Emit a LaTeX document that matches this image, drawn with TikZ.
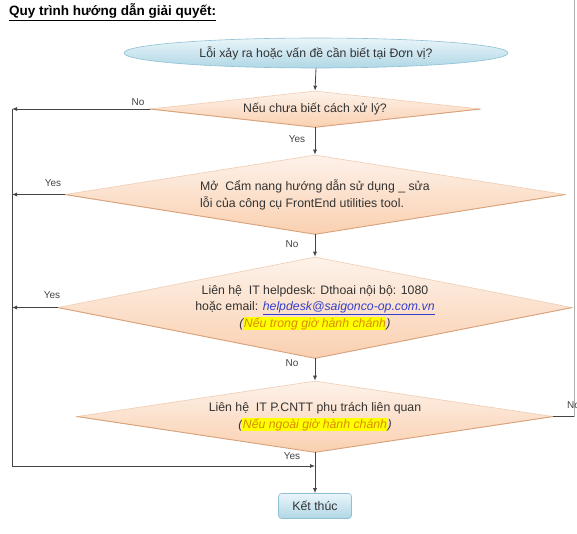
\documentclass[tikz,border=0pt]{standalone}
\usepackage{fontspec}
\setmainfont{Liberation Sans}
\usetikzlibrary{shapes.geometric,arrows.meta}
\definecolor{txt}{HTML}{333333}
\definecolor{lnc}{HTML}{444444}
\definecolor{dtop}{HTML}{FDF2EA}
\definecolor{dbot}{HTML}{FAD0B0}
\definecolor{dedge}{HTML}{F0CDB2}
\definecolor{dshade}{HTML}{D9A27A}
\definecolor{etop}{HTML}{EAF5FA}
\definecolor{ebot}{HTML}{AFD7E6}
\definecolor{eedge}{HTML}{8FC0D4}
\definecolor{hlyellow}{HTML}{FFFF00}
\definecolor{hlorange}{HTML}{D98C00}
\definecolor{linkblue}{HTML}{3340CC}
\definecolor{edgegray}{HTML}{B0B0B0}
\newcommand\hlt[1]{{\setlength{\fboxsep}{0.4pt}\colorbox{hlyellow}{\textcolor{hlorange}{#1}}}}
\begin{document}
\begin{tikzpicture}[x=1pt,y=-1pt,
  base/.style={text=txt, font=\fontsize{12.3}{17}\selectfont},
  dia/.style={base, diamond, inner sep=0pt, top color=dtop, bottom color=dbot, draw=dedge, line width=0.6pt},
  startell/.style={base, ellipse, inner sep=0pt, top color=etop, bottom color=ebot, draw=eedge, line width=0.6pt, minimum width=384, minimum height=30},
  endbox/.style={base, rectangle, rounded corners=3pt, inner sep=0pt, top color=etop, bottom color=ebot, draw=eedge, line width=0.6pt, minimum width=73, minimum height=25},
  lab/.style={text=lnc, font=\fontsize{10}{12}\selectfont, inner sep=0pt},
  line/.style={draw=lnc, line width=0.8pt},
  conn/.style={line, -{Latex[length=5pt,width=4pt]}},
  shadeedge/.style={draw=dshade, line width=0.9pt}
]
\clip (0,0) rectangle (577,533);
\fill[white] (0,0) rectangle (577,533);

\node[anchor=west, text=black, font=\bfseries\fontsize{13.5}{16}\selectfont, inner sep=0pt] (title) at (9,12) {\underline{Quy trình hướng dẫn giải quyết:}};

\node[startell] (start) at (316,53) {Lỗi xảy ra hoặc vấn đề cần biết tại Đơn vị?};

\node[dia, aspect=9.2, minimum width=330, minimum height=36] (d1) at (315,109) {Nếu chưa biết cách xử lý?};
\draw[shadeedge] (d1.west) -- (d1.south) -- (d1.east);

\node[dia, aspect=6.25, minimum width=500, minimum height=79, align=left] (d2) at (315,194.5) {Mở\ \ Cẩm nang hướng dẫn sử dụng \_ sửa\\lỗi của công cụ FrontEnd utilities tool.};
\draw[shadeedge] (d2.west) -- (d2.south) -- (d2.east);

\node[dia, aspect=5.14, minimum width=514, minimum height=101, align=center, font=\fontsize{12.3}{16.5}\selectfont] (d3) at (315,307.5) {Liên hệ\ \ IT helpdesk: Dthoai nội bộ: 1080\\hoặc email: \textcolor{linkblue}{\itshape\underline{helpdesk@saigonco-op.com.vn}}\\{\itshape(\hlt{Nếu trong giờ hành chánh})}};
\draw[shadeedge] (d3.west) -- (d3.south) -- (d3.east);

\node[dia, aspect=6.8, minimum width=476, minimum height=71, align=center] (d4) at (315,416.5) {Liên hệ\ \ IT P.CNTT phụ trách liên quan\\{\itshape(\hlt{Nếu ngoài giờ hành chánh})}};
\draw[shadeedge] (d4.west) -- (d4.south) -- (d4.east);

\node[endbox] (end) at (315,506) {Kết thúc};

\coordinate (lx) at (12,0);
\coordinate (join) at (315,466);
\coordinate (rx) at (574,0);

\draw[conn] (start.south) -- (d1.north);
\draw[conn] (d1.south) -- (d2.north);
\draw[conn] (d2.south) -- (d3.north);
\draw[conn] (d3.south) -- (d4.north);
\draw[conn] (d4.south) -- (end.north);

\draw[conn] (d1.west) -- (d1.west -| lx);
\draw[conn] (d2.west) -- (d2.west -| lx);
\draw[conn] (d3.west) -- (d3.west -| lx);
\draw[conn] (d1.west -| lx) |- (join);

\draw[line] (d4.east) -- (d4.east -| rx);
\draw[draw=edgegray, line width=0.7pt] (d4.east -| rx) -- (rx);

\node[lab] (l1) at (138,102) {No};
\node[lab] (l2) at (297,139) {Yes};
\node[lab] (l3) at (53,183) {Yes};
\node[lab] (l4) at (292,244) {No};
\node[lab] (l5) at (52,295) {Yes};
\node[lab] (l6) at (292,363) {No};
\node[lab, anchor=west] (l7) at (567,405) {No};
\node[lab] (l8) at (292,456) {Yes};
\end{tikzpicture}
\end{document}
